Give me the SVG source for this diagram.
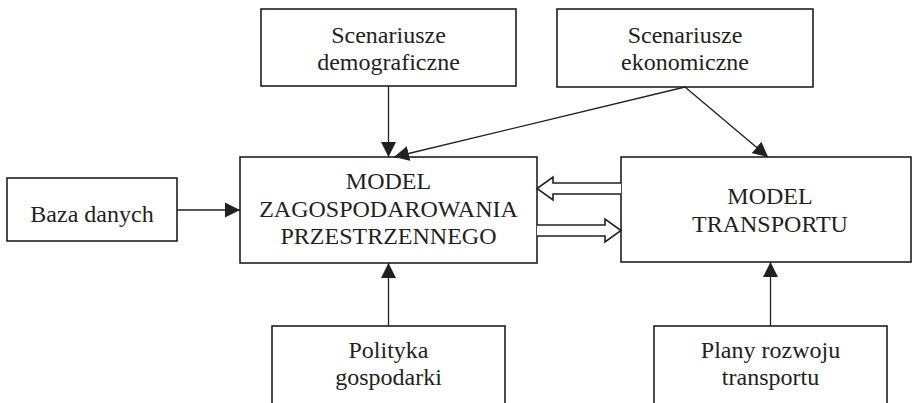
<svg xmlns="http://www.w3.org/2000/svg" width="912" height="403" viewBox="0 0 912 403">
<style>
.box{fill:#fff;stroke:#231f20;stroke-width:1.6}
.t{font-size:24px;fill:#231f20;text-anchor:middle}
.c{stroke:#231f20;stroke-width:1.3;fill:none}
.h{fill:#fff;stroke:#231f20;stroke-width:1.6;stroke-linejoin:miter}
</style>
<defs>
<marker id="ah" markerWidth="15" markerHeight="15" viewBox="0 0 15 15" refX="15" refY="7.5" orient="auto" markerUnits="userSpaceOnUse">
<path d="M0,0 L15,7.5 L0,15 Z" fill="#231f20"/>
</marker>
</defs>
<rect width="912" height="403" fill="#fff"/>
<g font-family="Liberation Serif">
<g id="demograficzne">
<rect class="box" x="261" y="9" width="255" height="77"/>
<text class="t" x="388.5" y="43">Scenariusze</text>
<text class="t" x="388.5" y="70">demograficzne</text>
</g>
<g id="ekonomiczne">
<rect class="box" x="557" y="9" width="256" height="78"/>
<text class="t" x="685" y="43">Scenariusze</text>
<text class="t" x="685" y="70">ekonomiczne</text>
</g>
<g id="baza">
<rect class="box" x="7" y="178" width="170" height="63"/>
<text class="t" x="92" y="222">Baza danych</text>
</g>
<g id="zagospodarowanie">
<rect class="box" x="240" y="157" width="297" height="106"/>
<text class="t" x="388.5" y="189">MODEL</text>
<text class="t" x="388.5" y="217">ZAGOSPODAROWANIA</text>
<text class="t" x="388.5" y="244">PRZESTRZENNEGO</text>
</g>
<g id="transport">
<rect class="box" x="621" y="157" width="290" height="105"/>
<text class="t" x="770" y="204">MODEL</text>
<text class="t" x="770" y="232">TRANSPORTU</text>
</g>
<g id="polityka">
<rect class="box" x="272" y="326" width="233" height="90"/>
<text class="t" x="388.5" y="358">Polityka</text>
<text class="t" x="388.5" y="385">gospodarki</text>
</g>
<g id="plany">
<rect class="box" x="654" y="326" width="233" height="90"/>
<text class="t" x="770.5" y="358">Plany rozwoju</text>
<text class="t" x="770.5" y="385">transportu</text>
</g>
</g>
<g id="connectors">
<line class="c" x1="388.5" y1="86" x2="388.5" y2="157" marker-end="url(#ah)"/>
<line class="c" x1="685" y1="87" x2="394" y2="157" marker-end="url(#ah)"/>
<line class="c" x1="685" y1="87" x2="768" y2="157" marker-end="url(#ah)"/>
<line class="c" x1="177" y1="210" x2="240" y2="210" marker-end="url(#ah)"/>
<line class="c" x1="388.5" y1="326" x2="388.5" y2="263" marker-end="url(#ah)"/>
<line class="c" x1="770.5" y1="326" x2="770.5" y2="262" marker-end="url(#ah)"/>
<path class="h" d="M621,183 L553,183 L553,177 L537,188.5 L553,200 L553,194 L621,194"/>
<path class="h" d="M537,225 L605,225 L605,219 L621,230.5 L605,242 L605,236 L537,236"/>
</g>
</svg>
